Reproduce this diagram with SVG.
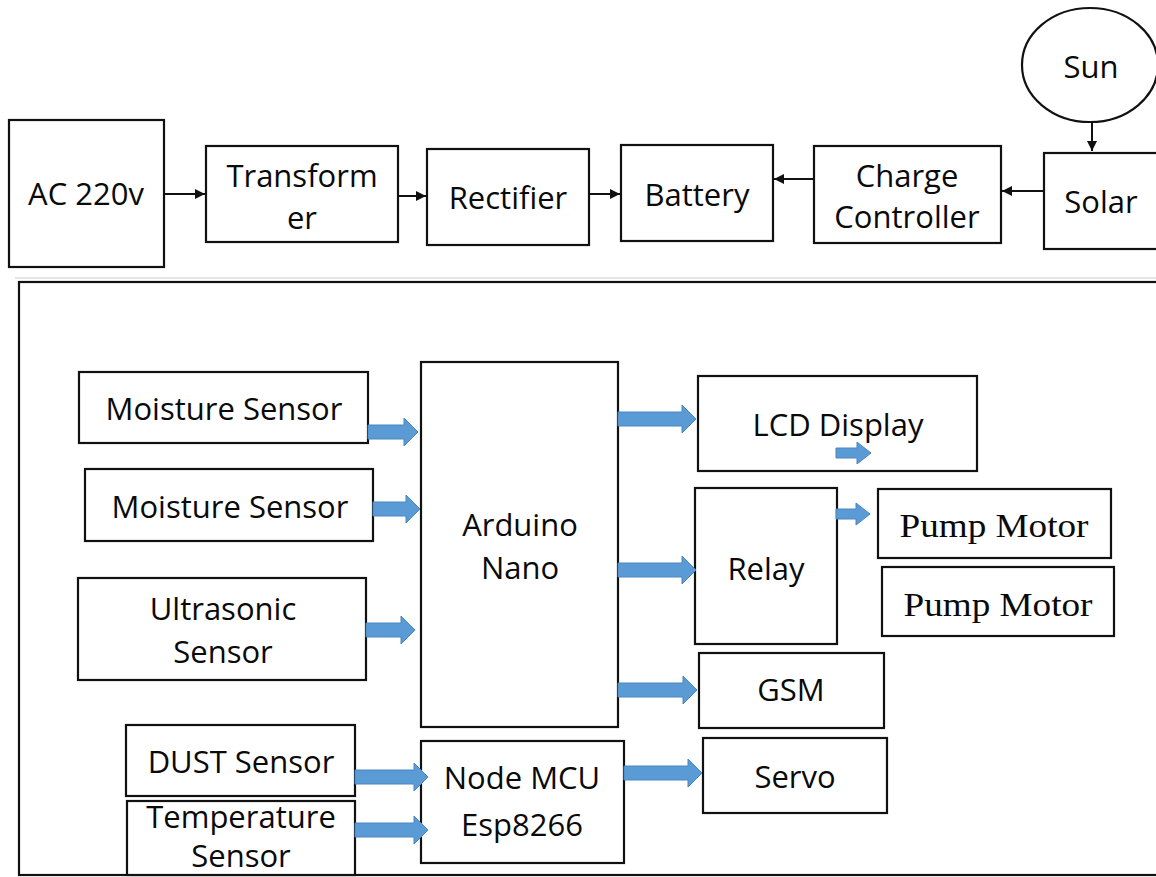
<svg xmlns="http://www.w3.org/2000/svg" width="1156" height="877" viewBox="0 0 1156 877">
<style>
.box{fill:#fff;stroke:#111;stroke-width:2.2}
.t{font-family:"Open Sans",Lato,"Liberation Sans",sans-serif;font-size:31px;fill:#0a0a0a;text-anchor:middle}
.s{font-family:"Liberation Serif","Times New Roman",serif;font-size:34px;fill:#0a0a0a;text-anchor:middle}
.ln{stroke:#111;stroke-width:2;fill:none;marker-end:url(#ah)}
.ba{fill:#5b9bd5;stroke:#4a86c0;stroke-width:1}
</style>
<defs>
<marker id="ah" viewBox="0 0 10 10" refX="10" refY="5" markerWidth="5" markerHeight="5" markerUnits="strokeWidth" orient="auto">
<path d="M0,0 L10,5 L0,10 Z" fill="#111"/>
</marker>
</defs>
<rect width="1156" height="877" fill="#fff"/>
<line x1="15" y1="278" x2="1156" y2="278" stroke="#ddd" stroke-width="1.5"/>
<rect id="frame" x="19" y="282" width="1150" height="593" fill="none" stroke="#111" stroke-width="2.2"/>

<g id="ac"><rect class="box" x="9" y="120" width="155" height="147"/><text class="t" x="86" y="205">AC 220v</text></g>
<g id="transformer"><rect class="box" x="206" y="146" width="192" height="96"/><text class="t" x="302" y="187">Transform</text><text class="t" x="302" y="229">er</text></g>
<g id="rectifier"><rect class="box" x="427" y="149" width="162" height="96"/><text class="t" x="508" y="209">Rectifier</text></g>
<g id="battery"><rect class="box" x="621" y="145" width="152" height="96"/><text class="t" x="697" y="206">Battery</text></g>
<g id="charge"><rect class="box" x="814" y="146" width="187" height="97"/><text class="t" x="907" y="187">Charge</text><text class="t" x="907" y="228">Controller</text></g>
<g id="solar"><rect class="box" x="1044" y="153" width="125" height="96"/><text class="t" x="1101" y="213">Solar</text></g>
<g id="sun"><ellipse cx="1090" cy="65" rx="68" ry="57" fill="#fff" stroke="#111" stroke-width="2.2"/><text class="t" x="1091" y="78">Sun</text></g>

<g id="moist1"><rect class="box" x="79" y="372" width="289" height="71"/><text class="t" x="224" y="420">Moisture Sensor</text></g>
<g id="moist2"><rect class="box" x="85" y="469" width="288" height="72"/><text class="t" x="230" y="518">Moisture Sensor</text></g>
<g id="ultra"><rect class="box" x="78" y="578" width="288" height="102"/><text class="t" x="223" y="620">Ultrasonic</text><text class="t" x="223" y="663">Sensor</text></g>
<g id="arduino"><rect class="box" x="421" y="362" width="197" height="365"/><text class="t" x="520" y="536">Arduino</text><text class="t" x="520" y="579">Nano</text></g>
<g id="lcd"><rect class="box" x="698" y="376" width="279" height="95"/><text class="t" x="838" y="436">LCD Display</text></g>
<g id="relay"><rect class="box" x="695" y="488" width="142" height="156"/><text class="t" x="766" y="580">Relay</text></g>
<g id="pump1"><rect class="box" x="878" y="489" width="233" height="69"/><text class="s" x="994" y="537" textLength="189" lengthAdjust="spacingAndGlyphs">Pump Motor</text></g>
<g id="pump2"><rect class="box" x="882" y="567" width="232" height="69"/><text class="s" x="998" y="616" textLength="189" lengthAdjust="spacingAndGlyphs">Pump Motor</text></g>
<g id="gsm"><rect class="box" x="699" y="653" width="185" height="75"/><text class="t" x="791" y="701">GSM</text></g>
<g id="servo"><rect class="box" x="703" y="738" width="184" height="75"/><text class="t" x="795" y="788">Servo</text></g>
<g id="nodemcu"><rect class="box" x="421" y="741" width="203" height="122"/><text class="t" x="522" y="789">Node MCU</text><text class="t" x="522" y="836">Esp8266</text></g>
<g id="dust"><rect class="box" x="126" y="725" width="229" height="71"/><text class="t" x="241" y="773">DUST Sensor</text></g>
<g id="temp"><rect class="box" x="127" y="801" width="228" height="74"/><text class="t" x="241" y="828">Temperature</text><text class="t" x="241" y="867">Sensor</text></g>

<g id="connectors">
<line class="ln" x1="164" y1="194" x2="205" y2="194"/>
<line class="ln" x1="398" y1="196" x2="426" y2="196"/>
<line class="ln" x1="589" y1="194" x2="620" y2="194"/>
<line class="ln" x1="814" y1="179" x2="774" y2="179"/>
<line class="ln" x1="1044" y1="191" x2="1002" y2="191"/>
<line class="ln" x1="1092" y1="122" x2="1092" y2="151"/>
<g class="ba">
<path d="M368,425 L404,425 L404,418 L418,432 L404,446 L404,439 L368,439 Z"/>
<path d="M373,502 L406,502 L406,495 L420,509 L406,523 L406,516 L373,516 Z"/>
<path d="M366,623 L401,623 L401,616 L415,630 L401,644 L401,637 L366,637 Z"/>
<path d="M618,412 L682,412 L682,405 L696,419 L682,433 L682,426 L618,426 Z"/>
<path d="M618,563 L682,563 L682,556 L696,570 L682,584 L682,577 L618,577 Z"/>
<path d="M618,683 L683,683 L683,676 L697,690 L683,704 L683,697 L618,697 Z"/>
<path d="M836,448 L857,448 L857,442 L871,453 L857,464 L857,458 L836,458 Z"/>
<path d="M836,509 L856,509 L856,503 L870,514 L856,525 L856,519 L836,519 Z"/>
<path d="M624,766 L688,766 L688,759 L702,773 L688,787 L688,780 L624,780 Z"/>
<path d="M355,770 L414,770 L414,763 L428,777 L414,791 L414,784 L355,784 Z"/>
<path d="M355,823 L414,823 L414,816 L428,830 L414,844 L414,837 L355,837 Z"/>
</g>
</g>
</svg>
